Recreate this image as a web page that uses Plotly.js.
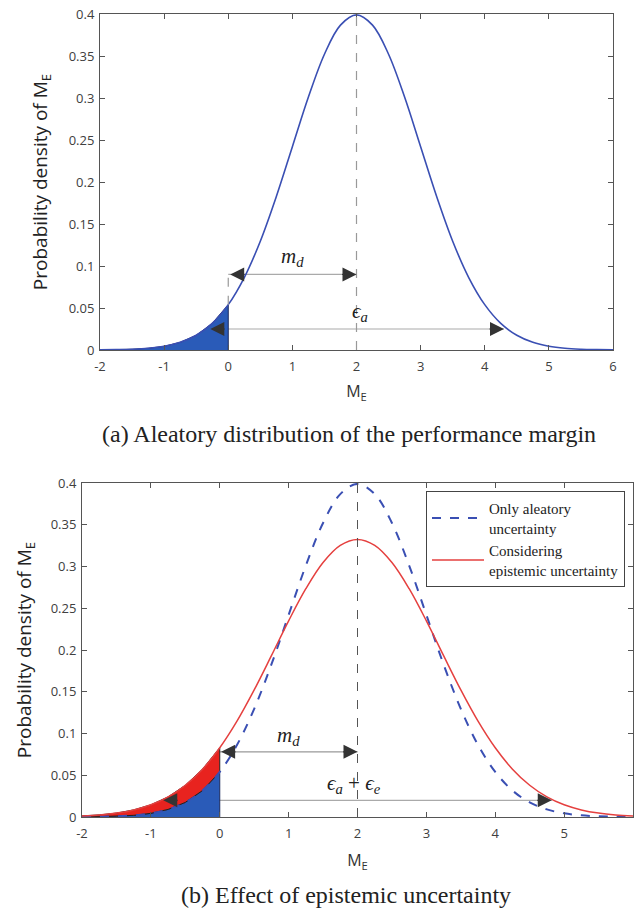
<!DOCTYPE html>
<html>
<head>
<meta charset="utf-8">
<script src="https://cdn.plot.ly/plotly-3.0.1.min.js"></script>
<style>html,body{margin:0;padding:0;background:#fff;}#chart{width:634px;height:915px;}</style>
</head>
<body>
<div id="chart"></div>
<script>
// Performance margin M_E (x) grid
const marginX = [-2,-1.75,-1.5,-1.25,-1,-0.75,-0.5,-0.25,0,0.25,0.5,0.75,1,1.25,1.5,1.75,2,2.25,2.5,2.75,3,3.25,3.5,3.75,4,4.25,4.5,4.75,5,5.25,5.5,5.75,6];
// Only aleatory uncertainty density (peak ~0.399 at M_E = 2)
const aleatoryDensity = [0.0001,0.0004,0.0009,0.0020,0.0044,0.0091,0.0175,0.0317,0.0540,0.0863,0.1295,0.1827,0.2420,0.3011,0.3521,0.3867,0.3989,0.3867,0.3521,0.3011,0.2420,0.1827,0.1295,0.0863,0.0540,0.0317,0.0175,0.0091,0.0044,0.0020,0.0009,0.0004,0.0001];
// Considering epistemic uncertainty density (peak ~0.332 at M_E = 2)
const epistemicDensity = [0.0013,0.0025,0.0047,0.0085,0.0146,0.0241,0.0380,0.0573,0.0829,0.1148,0.1522,0.1932,0.2349,0.2734,0.3048,0.3253,0.3324,0.3253,0.3048,0.2734,0.2349,0.1932,0.1522,0.1148,0.0829,0.0573,0.0380,0.0241,0.0146,0.0085,0.0047,0.0025,0.0013];
// Tick labels
const xTicks = [-2,-1,0,1,2,3,4,5,6];
const xTickLabels = ['-2','-1','0','1','2','3','4','5','6'];
const yTicks = [0,0.05,0.1,0.15,0.2,0.25,0.3,0.35,0.4];
const yTickLabels = ['0','0.05','0.1','0.15','0.2','0.25','0.3','0.35','0.4'];
const seriesNames = ["Only aleatory<br>uncertainty", "Considering<br>epistemic uncertainty"];
const captions = ["(a) Aleatory distribution of the performance margin", "(b) Effect of epistemic uncertainty"];

// failure region (M_E <= 0)
const failIdx = marginX.map((v,i)=>i).filter(i => marginX[i] <= 0);
const failX = failIdx.map(i => marginX[i]);
const failBlue = failIdx.map(i => aleatoryDensity[i]);
const failRed = failIdx.map(i => epistemicDensity[i]);
const last = failX.length - 1;
const peakIdx = aleatoryDensity.indexOf(Math.max(...aleatoryDensity));

const blueLine = '#3a4fb3';
const blueFill = '#2a5bb8';
const redLine = '#e5403f';
const redFill = '#e8231f';

const traces = [
  // (a) filled failure region
  {x: failX.concat([failX[last]]), y: failBlue.concat([0]), xaxis:'x', yaxis:'y', mode:'lines', fill:'toself',
   fillcolor: blueFill, line:{color:'#1b2a5e', width:1}, showlegend:false, hoverinfo:'skip'},
  {x: marginX, y: aleatoryDensity, xaxis:'x', yaxis:'y', mode:'lines', line:{color:blueLine, width:1.6, shape:'spline'}, showlegend:false},
  // (b) blue failure region under aleatory curve
  {x: failX.concat([failX[last]]), y: failBlue.concat([0]), xaxis:'x2', yaxis:'y2', mode:'lines', fill:'toself',
   fillcolor: blueFill, line:{color:'#1b2a5e', width:1}, showlegend:false, hoverinfo:'skip'},
  // (b) red extra region between curves
  {x: failX.concat(failX.slice().reverse()), y: failRed.concat(failBlue.slice().reverse()), xaxis:'x2', yaxis:'y2', mode:'lines', fill:'toself',
   fillcolor: redFill, line:{color:'#222', width:1}, showlegend:false, hoverinfo:'skip'},
  {x: marginX, y: aleatoryDensity, xaxis:'x2', yaxis:'y2', mode:'lines', name: seriesNames[0],
   line:{color:blueLine, width:2, dash:'dash', shape:'spline'}},
  {x: marginX, y: epistemicDensity, xaxis:'x2', yaxis:'y2', mode:'lines', name: seriesNames[1],
   line:{color:redLine, width:1.5, shape:'spline'}}
];

const tickFont = {family:'Open Sans, Liberation Sans, Arial', size:13, color:'#404040'};
function xAxis(domain, anchor, standoff){
  return {domain:domain, anchor:anchor, range:[-2,6], tickvals:xTicks, ticktext:xTickLabels, ticks:'inside', ticklen:5, tickcolor:'#555',
    showline:true, linecolor:'#555', linewidth:1, mirror:'ticks', showgrid:false, zeroline:false, tickfont:tickFont,
    ticklabelstandoff:4,
    title:{text:'M<sub>E</sub>', font:{family:'Open Sans, Liberation Sans', size:16, color:'#333'}, standoff:standoff}};
}
function yAxis(domain, anchor, standoff){
  return {domain:domain, anchor:anchor, range:[0,0.4], tickvals:yTicks, ticktext:yTickLabels, ticks:'inside', ticklen:5, tickcolor:'#555',
    showline:true, linecolor:'#555', linewidth:1, mirror:'ticks', showgrid:false, zeroline:false, tickfont:tickFont,
    ticklabelstandoff:2,
    title:{text:'Probability density of M<sub>E</sub>', font:{family:'Open Sans, Liberation Sans', size:19, color:'#222'}, standoff:standoff}};
}

const serif = 'Liberation Serif, DejaVu Serif, serif';
const headDark = '#333';
function head(xref, yref, x, y, dir){
  return {xref:xref, yref:yref, x:x, y:y, ax: dir*16, ay:0, text:'', showarrow:true,
    arrowhead:2, arrowsize:2.8, arrowwidth:1, arrowcolor:headDark, standoff:0};
}

const shapes = [
  // (a)
  {type:'line', xref:'x', yref:'y', x0:2, x1:2, y0:0, y1:aleatoryDensity[peakIdx], line:{color:'#999', width:1.2, dash:'dash'}},
  {type:'line', xref:'x', yref:'y', x0:0, x1:0, y0:failBlue[last], y1:0.09, line:{color:'#999', width:1.2, dash:'dash'}},
  {type:'line', xref:'x', yref:'y', x0:0, x1:2, y0:0.09, y1:0.09, line:{color:'#aaa', width:1.2}, layer:'below'},
  {type:'line', xref:'x', yref:'y', x0:-0.28, x1:4.3, y0:0.025, y1:0.025, line:{color:'#aaa', width:1.2}, layer:'below'},
  // (b)
  {type:'line', xref:'x2', yref:'y2', x0:2, x1:2, y0:0, y1:aleatoryDensity[peakIdx], line:{color:'#555', width:1, dash:'dash'}},
  {type:'line', xref:'x2', yref:'y2', x0:0, x1:2, y0:0.078, y1:0.078, line:{color:'#999', width:1.2}, layer:'below'},
  {type:'line', xref:'x2', yref:'y2', x0:-0.82, x1:4.82, y0:0.02, y1:0.02, line:{color:'#aaa', width:1.2}, layer:'below'}
];

const annotations = [
  head('x','y',0.03,0.09,1), head('x','y',2,0.09,-1),
  head('x','y',-0.28,0.025,1), head('x','y',4.3,0.025,-1),
  {xref:'x', yref:'y', x:1.0, y:0.111, text:'<i>m</i><sub><i>d</i></sub>', showarrow:false, font:{family:serif, size:21, color:'#222'}},
  {xref:'x', yref:'y', x:2.05, y:0.045, text:'<i>ϵ</i><sub><i>a</i></sub>', showarrow:false, font:{family:serif, size:21, color:'#222'}},
  head('x2','y2',0.02,0.078,1), head('x2','y2',2,0.078,-1),
  head('x2','y2',-0.82,0.02,1), head('x2','y2',4.82,0.02,-1),
  {xref:'x2', yref:'y2', x:1.0, y:0.097, text:'<i>m</i><sub><i>d</i></sub>', showarrow:false, font:{family:serif, size:21, color:'#222'}},
  {xref:'x2', yref:'y2', x:1.95, y:0.04, text:'<i>ϵ</i><sub><i>a</i></sub> + <i>ϵ</i><sub><i>e</i></sub>', showarrow:false, font:{family:serif, size:21, color:'#222'}},
  {xref:'paper', yref:'paper', x:0.55, y:1-434/915, yanchor:'middle', text:captions[0], showarrow:false, font:{family:serif, size:24, color:'#222'}},
  {xref:'paper', yref:'paper', x:0.545, y:1-895/915, yanchor:'middle', text:captions[1], showarrow:false, font:{family:serif, size:24, color:'#222'}}
];

const layout = {
  width:634, height:915, margin:{l:0, r:0, t:0, b:0},
  paper_bgcolor:'#fff', plot_bgcolor:'#fff',
  xaxis: xAxis([100/634, 613/634], 'y', 12),
  yaxis: yAxis([1-350/915, 1-14/915], 'x', 16),
  xaxis2: xAxis([82/634, 633/634], 'y2', 14),
  yaxis2: yAxis([1-817/915, 1-483/915], 'x2', 14),
  showlegend:true,
  legend:{x:625/634, y:1-491/915, xanchor:'right', yanchor:'top', bgcolor:'#fff', bordercolor:'#444', borderwidth:1,
    font:{family:serif, size:15, color:'#222'}, tracegroupgap:0, itemwidth:52},
  shapes: shapes,
  annotations: annotations
};

Plotly.newPlot('chart', traces, layout, {displayModeBar:false, staticPlot:true});
</script>
</body>
</html>
